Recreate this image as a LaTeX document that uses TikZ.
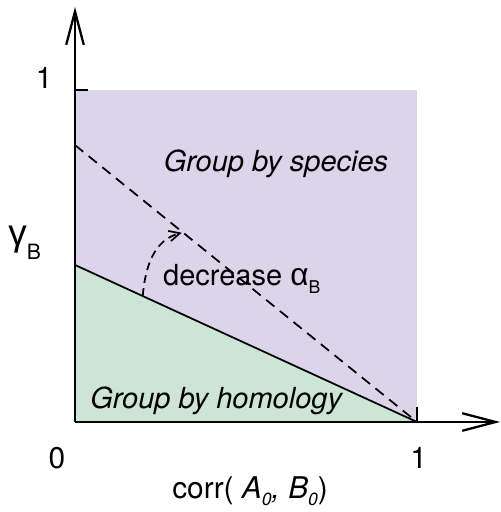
\documentclass[tikz,border=0pt]{standalone}
\usepackage{fontspec}
\setmainfont{TeX Gyre Heros}
\newfontfamily\greekfont{Liberation Sans}
\usetikzlibrary{arrows.meta}
\definecolor{species}{RGB}{220,212,232}
\definecolor{homology}{RGB}{204,229,214}
\newcommand{\lowsub}[3]{\raisebox{-#1}{\fontsize{#2}{#2}\selectfont #3}}
\tikzset{
  axis/.style={line width=1.3pt},
  edge/.style={line width=1pt},
  region/.style={font=\fontsize{16.5}{19}\selectfont\itshape, inner sep=0pt},
  note/.style={font=\fontsize{16.5}{19}\selectfont, inner sep=0pt},
  axlab/.style={font=\fontsize{17}{20}\selectfont, inner sep=0pt},
  >={Straight Barb[length=19pt,width=10pt]}
}

\begin{document}
\begin{tikzpicture}[x=6.84cm, y=6.64cm]
  \useasboundingbox (-0.2193,-0.2711) rectangle (1.2456,1.2711);
  % Points
  \coordinate (O) at (0,0);
  \coordinate (X1) at (1,0);
  \coordinate (Y1) at (0,1);
  \coordinate (XY) at (1,1);
  \coordinate (Xend) at (1.243,0);
  \coordinate (Yend) at (0,1.250);
  \coordinate (X1t) at (1,0.045);
  \coordinate (Y1t) at (0.038,1);
  \coordinate (hom) at (0,0.473);
  \coordinate (spc) at (0,0.834);
  \coordinate (arcA) at (0.198,0.3795);
  \coordinate (arcB) at (0.312,0.570);
  % Regions
  \fill[species] (O) rectangle (XY);
  \fill[homology] (O) -- (X1) -- (hom) -- cycle;
  \draw[edge] (hom) -- (X1);
  \draw[edge, dash pattern=on 6pt off 4pt] (spc) -- (X1);
  \draw[edge, dash pattern=on 4.5pt off 3pt, -{Straight Barb[length=6pt,width=6pt]}]
    (arcA) to[out=85,in=195] (arcB);
  % Axes
  \draw[axis,->] (O) -- (Xend);
  \draw[axis,->] (O) -- (Yend);
  \draw[edge] (Y1) -- (Y1t);
  \draw[edge] (X1) -- (X1t);
  % Labels
  \node[region, anchor=base] (spcLab) at (0.588,0.753) {Group by species};
  \node[region, anchor=base west] (homLab) at (0.0439,0.042) {Group by homology};
  \node[note, anchor=base west] (decLab) at (0.257,0.41)
    {decrease {\greekfont\fontsize{18}{20}\selectfont α}\lowsub{0.25em}{10}{B}};
  \node[axlab, anchor=base west] (gamLab) at (-0.196,0.533)
    {{\greekfont\fontsize{21}{24}\selectfont γ}\lowsub{0.5em}{12}{B}};
  \node[axlab, anchor=base] (x0) at (-0.0526,-0.1386) {0};
  \node[axlab, anchor=base] (x1) at (1.005,-0.1386) {1};
  \node[axlab, anchor=base] (y1) at (-0.09,1.003) {1};
  \node[axlab, anchor=base] (xLab) at (0.512,-0.229)
    {corr( \textit{A\lowsub{0.25em}{10}{0}, B\lowsub{0.25em}{10}{0}})};
\end{tikzpicture}
\end{document}
